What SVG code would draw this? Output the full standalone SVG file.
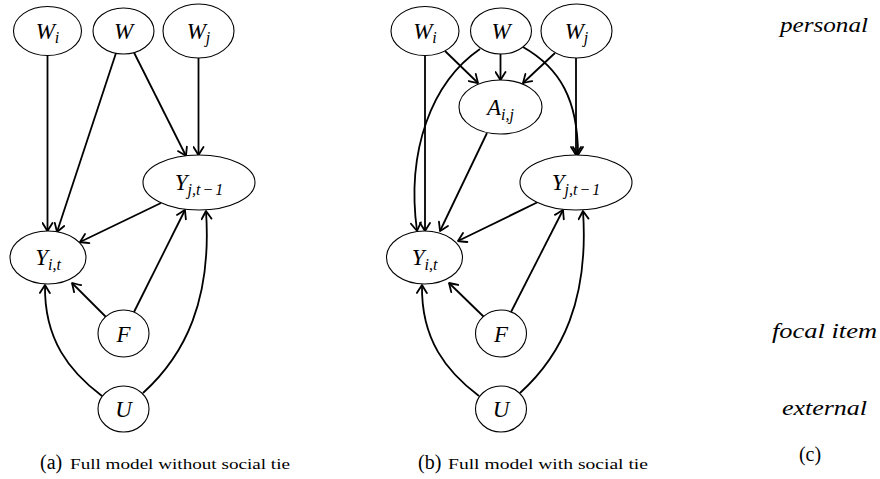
<svg xmlns="http://www.w3.org/2000/svg" width="880" height="479" viewBox="0 0 880 479">
<defs>
<marker id="arr" viewBox="-10 -6 12 12" refX="0" refY="0" markerWidth="12" markerHeight="12" markerUnits="userSpaceOnUse" orient="auto">
<path d="M-8,-5 Q-2,-1.2 0,0 Q-2,1.2 -8,5" fill="none" stroke="#000" stroke-width="1.8" stroke-linecap="round" stroke-linejoin="round"/>
</marker>
</defs>
<style>
.n{fill:#fff;stroke:#000;stroke-width:1.1}
.e{fill:none;stroke:#000;stroke-width:1.8;marker-end:url(#arr)}
.m{font-family:'Liberation Serif',serif;font-style:italic;font-size:23px;text-anchor:middle;fill:#000}
.s{font-size:16px}
.lab{font-family:'Liberation Serif',serif;font-style:italic;font-size:20px;fill:#000}
.cap{font-family:'Liberation Serif',serif;fill:#000}
</style>
<rect width="880" height="479" fill="#fff"/>
<g id="connectors">
<path class="e" d="M47.5,55.5 L47.5,231"/>
<path class="e" d="M116,53 L57,232"/>
<path class="e" d="M134,52.5 L186,156"/>
<path class="e" d="M198.5,58 L198.5,155"/>
<path class="e" d="M161,203 L80,242"/>
<path class="e" d="M106,317 L72,283"/>
<path class="e" d="M134,312 L185,210"/>
<path class="e" d="M102,396 C70,372 44,340 45,285"/>
<path class="e" d="M143,393 C185,355 212,300 206,211"/>
<path class="e" d="M425,55.5 L425,231"/>
<path class="e" d="M480,49 C432,82 406,150 417,231"/>
<path class="e" d="M445,51 L478,83"/>
<path class="e" d="M500.5,54 L500.5,80"/>
<path class="e" d="M555,53 L523,83"/>
<path class="e" d="M523,47 C560,68 578,100 578,155"/>
<path class="e" d="M576,58 L576,155"/>
<path class="e" d="M487,133 L440,231"/>
<path class="e" d="M538,202 L458,241"/>
<path class="e" d="M484,317 L449,283"/>
<path class="e" d="M511,312 L563,210"/>
<path class="e" d="M479,396 C447,372 421,340 422,285"/>
<path class="e" d="M520,393 C562,355 589,300 583,211"/>
</g>
<g id="a-Wi"><ellipse class="n" cx="47.5" cy="31" rx="34" ry="24.5"/><text class="m" x="47.5" y="39">W<tspan class="s" dy="4">i</tspan></text></g>
<g id="a-W"><ellipse class="n" cx="123.5" cy="31" rx="30.5" ry="23"/><text class="m" x="123.5" y="39">W</text></g>
<g id="a-Wj"><ellipse class="n" cx="198.5" cy="31" rx="35.5" ry="27"/><text class="m" x="198.5" y="39">W<tspan class="s" dy="4">j</tspan></text></g>
<g id="a-Yj"><ellipse class="n" cx="199" cy="182.5" rx="56" ry="27.5"/><text class="m" x="199" y="190">Y<tspan class="s" dy="5">j,t</tspan><tspan class="s" dx="2">−</tspan><tspan class="s" dx="2">1</tspan></text></g>
<g id="a-Yi"><ellipse class="n" cx="48" cy="257.5" rx="38" ry="26.5"/><text class="m" x="48" y="265">Y<tspan class="s" dy="5">i,t</tspan></text></g>
<g id="a-F"><ellipse class="n" cx="123.5" cy="333.5" rx="25.5" ry="23.5"/><text class="m" x="123.5" y="341.5">F</text></g>
<g id="a-U"><ellipse class="n" cx="123.5" cy="409" rx="25.5" ry="23"/><text class="m" x="123.5" y="417">U</text></g>

<g id="b-Wi"><ellipse class="n" cx="425" cy="31" rx="34" ry="24.5"/><text class="m" x="425" y="39">W<tspan class="s" dy="4">i</tspan></text></g>
<g id="b-W"><ellipse class="n" cx="501" cy="31" rx="30.5" ry="23"/><text class="m" x="501" y="39">W</text></g>
<g id="b-Wj"><ellipse class="n" cx="576.5" cy="31" rx="35.5" ry="27"/><text class="m" x="576.5" y="39">W<tspan class="s" dy="4">j</tspan></text></g>
<g id="b-A"><ellipse class="n" cx="500.5" cy="107" rx="41.5" ry="27"/><text class="m" x="500.5" y="115">A<tspan class="s" dy="5">i,j</tspan></text></g>
<g id="b-Yj"><ellipse class="n" cx="576" cy="182.5" rx="56" ry="27.5"/><text class="m" x="576" y="190">Y<tspan class="s" dy="5">j,t</tspan><tspan class="s" dx="2">−</tspan><tspan class="s" dx="2">1</tspan></text></g>
<g id="b-Yi"><ellipse class="n" cx="424.5" cy="257.5" rx="38" ry="26.5"/><text class="m" x="424.5" y="265">Y<tspan class="s" dy="5">i,t</tspan></text></g>
<g id="b-F"><ellipse class="n" cx="501" cy="333.5" rx="25.5" ry="23.5"/><text class="m" x="501" y="341.5">F</text></g>
<g id="b-U"><ellipse class="n" cx="501" cy="409" rx="25.5" ry="23"/><text class="m" x="501" y="417">U</text></g>

<g id="labels">
<text class="lab" x="780" y="32" textLength="88" lengthAdjust="spacingAndGlyphs">personal</text>
<text class="lab" x="772" y="338" textLength="105" lengthAdjust="spacingAndGlyphs">focal item</text>
<text class="lab" x="782" y="415" textLength="85" lengthAdjust="spacingAndGlyphs">external</text>
<text class="cap" x="810" y="461" font-size="20" text-anchor="middle">(c)</text>
</g>
<g id="captions">
<text class="cap" x="40" y="469" font-size="20">(a)</text>
<text class="cap" x="70" y="469" font-size="14.5" textLength="220" lengthAdjust="spacingAndGlyphs">Full model without social tie</text>
<text class="cap" x="418" y="469" font-size="20">(b)</text>
<text class="cap" x="448" y="469" font-size="14.5" textLength="200" lengthAdjust="spacingAndGlyphs">Full model with social tie</text>
</g>
</svg>
